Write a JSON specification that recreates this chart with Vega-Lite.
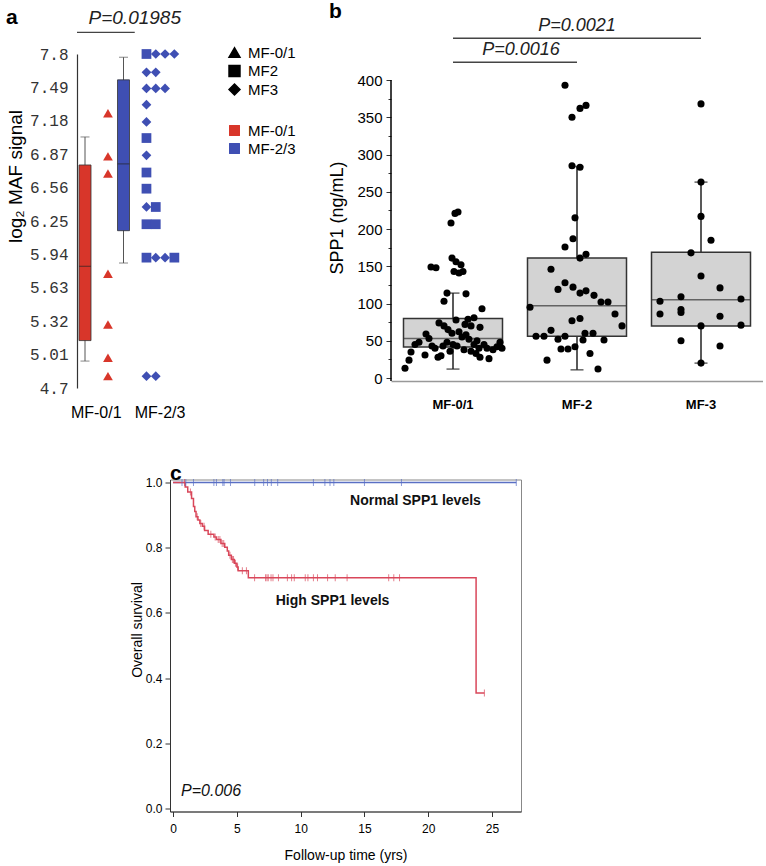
{
  "$schema": "https://vega.github.io/schema/vega-lite/v6.json",
  "padding": {"left": 5, "top": 0, "right": 0, "bottom": 0},
  "background": "white",
  "config": {
    "view": {"stroke": null},
    "font": "Liberation Sans",
    "axis": {"grid": false, "labelOverlap": false, "domainColor": "#000", "tickColor": "#000", "labelColor": "#000", "titleColor": "#000", "titleFontWeight": "normal", "labelFont": "Liberation Sans", "titleFont": "Liberation Sans"},
    "title": {"anchor": "start", "frame": "bounds", "fontSize": 21, "fontWeight": "bold", "color": "#000", "font": "Liberation Sans"},
    "legend": {"labelFont": "Liberation Sans", "labelColor": "#000"}
  },
  "datasets": {
    "boxA": [
      {"grp": "MF-0/1", "lo": 4.95, "q1": 5.14, "med": 5.83, "q3": 6.77, "hi": 7.03},
      {"grp": "MF-2/3", "lo": 5.86, "q1": 6.16, "med": 6.78, "q3": 7.56, "hi": 7.77}
    ],
    "ptsA": [
      {"grp": "MF-0/1", "type": "MF-0/1", "k": 0, "v": 7.25},
      {"grp": "MF-0/1", "type": "MF-0/1", "k": 0, "v": 6.85},
      {"grp": "MF-0/1", "type": "MF-0/1", "k": 0, "v": 6.69},
      {"grp": "MF-0/1", "type": "MF-0/1", "k": 0, "v": 5.76},
      {"grp": "MF-0/1", "type": "MF-0/1", "k": 0, "v": 5.29},
      {"grp": "MF-0/1", "type": "MF-0/1", "k": 0, "v": 4.98},
      {"grp": "MF-0/1", "type": "MF-0/1", "k": 0, "v": 4.81},
      {"grp": "MF-2/3", "type": "MF2", "k": 0, "v": 7.8},
      {"grp": "MF-2/3", "type": "MF3", "k": 1, "v": 7.8},
      {"grp": "MF-2/3", "type": "MF3", "k": 2, "v": 7.8},
      {"grp": "MF-2/3", "type": "MF3", "k": 3, "v": 7.8},
      {"grp": "MF-2/3", "type": "MF3", "k": 0, "v": 7.63},
      {"grp": "MF-2/3", "type": "MF3", "k": 1, "v": 7.63},
      {"grp": "MF-2/3", "type": "MF3", "k": 0, "v": 7.48},
      {"grp": "MF-2/3", "type": "MF3", "k": 1, "v": 7.48},
      {"grp": "MF-2/3", "type": "MF3", "k": 2, "v": 7.48},
      {"grp": "MF-2/3", "type": "MF3", "k": 0, "v": 7.33},
      {"grp": "MF-2/3", "type": "MF3", "k": 0, "v": 7.17},
      {"grp": "MF-2/3", "type": "MF2", "k": 0, "v": 7.02},
      {"grp": "MF-2/3", "type": "MF3", "k": 0, "v": 6.86},
      {"grp": "MF-2/3", "type": "MF2", "k": 0, "v": 6.7},
      {"grp": "MF-2/3", "type": "MF2", "k": 0, "v": 6.55},
      {"grp": "MF-2/3", "type": "MF3", "k": 0, "v": 6.38},
      {"grp": "MF-2/3", "type": "MF2", "k": 1, "v": 6.38},
      {"grp": "MF-2/3", "type": "MF2", "k": 0, "v": 6.22},
      {"grp": "MF-2/3", "type": "MF2", "k": 1, "v": 6.22},
      {"grp": "MF-2/3", "type": "MF2", "k": 0, "v": 5.91},
      {"grp": "MF-2/3", "type": "MF3", "k": 1, "v": 5.91},
      {"grp": "MF-2/3", "type": "MF3", "k": 2, "v": 5.91},
      {"grp": "MF-2/3", "type": "MF2", "k": 3, "v": 5.91},
      {"grp": "MF-2/3", "type": "MF3", "k": 0, "v": 4.81},
      {"grp": "MF-2/3", "type": "MF3", "k": 1, "v": 4.81}
    ],
    "sigA": [{"from": "MF-0/1", "to": "MF-2/3", "y": 8.0, "label": "P=0.01985"}],
    "boxB": [
      {"grp": "MF-0/1", "lo": 12, "q1": 41.6, "med": 53, "q3": 80, "hi": 114},
      {"grp": "MF-2", "lo": 11, "q1": 56, "med": 97, "q3": 161, "hi": 284},
      {"grp": "MF-3", "lo": 20, "q1": 70, "med": 105, "q3": 169, "hi": 263}
    ],
    "ptsB": [
      {"grp": "MF-0/1", "v": 13, "j": -0.96}, {"grp": "MF-0/1", "v": 24, "j": -0.88}, {"grp": "MF-0/1", "v": 35, "j": -0.84},
      {"grp": "MF-0/1", "v": 45, "j": -0.76}, {"grp": "MF-0/1", "v": 48, "j": -0.68}, {"grp": "MF-0/1", "v": 31, "j": -0.56},
      {"grp": "MF-0/1", "v": 59, "j": -0.54}, {"grp": "MF-0/1", "v": 53, "j": -0.48}, {"grp": "MF-0/1", "v": 43, "j": -0.42},
      {"grp": "MF-0/1", "v": 40, "j": -0.36}, {"grp": "MF-0/1", "v": 30, "j": -0.24}, {"grp": "MF-0/1", "v": 149, "j": -0.44},
      {"grp": "MF-0/1", "v": 148, "j": -0.34}, {"grp": "MF-0/1", "v": 74, "j": -0.28}, {"grp": "MF-0/1", "v": 103, "j": -0.18},
      {"grp": "MF-0/1", "v": 114, "j": -0.12}, {"grp": "MF-0/1", "v": 70, "j": -0.18}, {"grp": "MF-0/1", "v": 65, "j": -0.1},
      {"grp": "MF-0/1", "v": 60, "j": -0.02}, {"grp": "MF-0/1", "v": 48, "j": -0.12}, {"grp": "MF-0/1", "v": 36, "j": -0.06},
      {"grp": "MF-0/1", "v": 28, "j": -0.3}, {"grp": "MF-0/1", "v": 45, "j": 0}, {"grp": "MF-0/1", "v": 208, "j": -0.04},
      {"grp": "MF-0/1", "v": 221, "j": 0.04}, {"grp": "MF-0/1", "v": 223, "j": 0.1}, {"grp": "MF-0/1", "v": 161, "j": -0.02},
      {"grp": "MF-0/1", "v": 156, "j": 0.06}, {"grp": "MF-0/1", "v": 152, "j": 0.16}, {"grp": "MF-0/1", "v": 143, "j": 0.02},
      {"grp": "MF-0/1", "v": 141, "j": 0.12}, {"grp": "MF-0/1", "v": 143, "j": 0.2}, {"grp": "MF-0/1", "v": 113, "j": 0.26},
      {"grp": "MF-0/1", "v": 78, "j": 0.06}, {"grp": "MF-0/1", "v": 62, "j": 0.12}, {"grp": "MF-0/1", "v": 55, "j": 0.18},
      {"grp": "MF-0/1", "v": 43, "j": 0.08}, {"grp": "MF-0/1", "v": 38, "j": 0.22}, {"grp": "MF-0/1", "v": 72, "j": 0.24},
      {"grp": "MF-0/1", "v": 79, "j": 0.3}, {"grp": "MF-0/1", "v": 70, "j": 0.36}, {"grp": "MF-0/1", "v": 81, "j": 0.42},
      {"grp": "MF-0/1", "v": 52, "j": 0.32}, {"grp": "MF-0/1", "v": 45, "j": 0.42}, {"grp": "MF-0/1", "v": 36, "j": 0.36},
      {"grp": "MF-0/1", "v": 33, "j": 0.46}, {"grp": "MF-0/1", "v": 40, "j": 0.52}, {"grp": "MF-0/1", "v": 68, "j": 0.54},
      {"grp": "MF-0/1", "v": 93, "j": 0.58}, {"grp": "MF-0/1", "v": 45, "j": 0.62}, {"grp": "MF-0/1", "v": 28, "j": 0.54},
      {"grp": "MF-0/1", "v": 40, "j": 0.68}, {"grp": "MF-0/1", "v": 38, "j": 0.8}, {"grp": "MF-0/1", "v": 26, "j": 0.72},
      {"grp": "MF-0/1", "v": 42, "j": 0.88}, {"grp": "MF-0/1", "v": 48, "j": 0.94}, {"grp": "MF-0/1", "v": 40, "j": 0.98},
      {"grp": "MF-0/1", "v": 58, "j": 0.26}, {"grp": "MF-0/1", "v": 50, "j": 0.48}, {"grp": "MF-0/1", "v": 43, "j": -0.2},
      {"grp": "MF-2", "v": 393, "j": -0.24}, {"grp": "MF-2", "v": 350, "j": -0.1}, {"grp": "MF-2", "v": 362, "j": 0.06},
      {"grp": "MF-2", "v": 366, "j": 0.18}, {"grp": "MF-2", "v": 285, "j": -0.1}, {"grp": "MF-2", "v": 283, "j": 0.06},
      {"grp": "MF-2", "v": 215, "j": -0.04}, {"grp": "MF-2", "v": 187, "j": -0.08}, {"grp": "MF-2", "v": 176, "j": -0.24},
      {"grp": "MF-2", "v": 161, "j": 0.06}, {"grp": "MF-2", "v": 166, "j": 0.18}, {"grp": "MF-2", "v": 146, "j": -0.52},
      {"grp": "MF-2", "v": 119, "j": -0.38}, {"grp": "MF-2", "v": 128, "j": -0.24}, {"grp": "MF-2", "v": 122, "j": -0.08},
      {"grp": "MF-2", "v": 114, "j": 0.06}, {"grp": "MF-2", "v": 117, "j": 0.18}, {"grp": "MF-2", "v": 111, "j": 0.34},
      {"grp": "MF-2", "v": 102, "j": 0.48}, {"grp": "MF-2", "v": 102, "j": 0.62}, {"grp": "MF-2", "v": 86, "j": 0.76},
      {"grp": "MF-2", "v": 70, "j": 0.9}, {"grp": "MF-2", "v": 95, "j": -0.94}, {"grp": "MF-2", "v": 77, "j": -0.1},
      {"grp": "MF-2", "v": 80, "j": 0.06}, {"grp": "MF-2", "v": 56, "j": -0.82}, {"grp": "MF-2", "v": 56, "j": -0.66},
      {"grp": "MF-2", "v": 64, "j": -0.52}, {"grp": "MF-2", "v": 52, "j": -0.38}, {"grp": "MF-2", "v": 56, "j": -0.24},
      {"grp": "MF-2", "v": 60, "j": 0.16}, {"grp": "MF-2", "v": 60, "j": 0.32}, {"grp": "MF-2", "v": 51, "j": 0.12},
      {"grp": "MF-2", "v": 51, "j": 0.54}, {"grp": "MF-2", "v": 39, "j": -0.32}, {"grp": "MF-2", "v": 39, "j": -0.18},
      {"grp": "MF-2", "v": 42, "j": -0.04}, {"grp": "MF-2", "v": 24, "j": -0.6}, {"grp": "MF-2", "v": 33, "j": 0.26},
      {"grp": "MF-2", "v": 12, "j": 0.42},
      {"grp": "MF-3", "v": 368, "j": 0}, {"grp": "MF-3", "v": 263, "j": 0}, {"grp": "MF-3", "v": 217, "j": 0},
      {"grp": "MF-3", "v": 185, "j": 0.2}, {"grp": "MF-3", "v": 168, "j": -0.2}, {"grp": "MF-3", "v": 137, "j": 0},
      {"grp": "MF-3", "v": 121, "j": 0.38}, {"grp": "MF-3", "v": 109, "j": -0.4}, {"grp": "MF-3", "v": 103, "j": -0.82},
      {"grp": "MF-3", "v": 106, "j": 0.8}, {"grp": "MF-3", "v": 92, "j": -0.4}, {"grp": "MF-3", "v": 86, "j": -0.82},
      {"grp": "MF-3", "v": 83, "j": 0.38}, {"grp": "MF-3", "v": 71, "j": 0.8}, {"grp": "MF-3", "v": 70, "j": 0},
      {"grp": "MF-3", "v": 50, "j": -0.4}, {"grp": "MF-3", "v": 43, "j": 0.38}, {"grp": "MF-3", "v": 20, "j": 0},
      {"grp": "MF-3", "v": 88, "j": -0.4}
    ],
    "sigB": [
      {"from": "MF-0/1", "to": "MF-3", "y": 456, "label": "P=0.0021"},
      {"from": "MF-0/1", "to": "MF-2", "y": 424, "label": "P=0.0016"}
    ],
    "kmRed": [
      {"t": 0, "S": 1}, {"t": 0.95, "S": 0.986}, {"t": 1.15, "S": 0.971}, {"t": 1.45, "S": 0.951},
      {"t": 1.6, "S": 0.926}, {"t": 1.7, "S": 0.911}, {"t": 1.8, "S": 0.895}, {"t": 1.95, "S": 0.885},
      {"t": 2.1, "S": 0.874}, {"t": 2.3, "S": 0.866}, {"t": 2.47, "S": 0.853}, {"t": 2.75, "S": 0.841},
      {"t": 3.2, "S": 0.833}, {"t": 3.4, "S": 0.825}, {"t": 3.75, "S": 0.813}, {"t": 4.05, "S": 0.801},
      {"t": 4.25, "S": 0.79}, {"t": 4.36, "S": 0.777}, {"t": 4.57, "S": 0.764}, {"t": 4.8, "S": 0.752},
      {"t": 5.0, "S": 0.741}, {"t": 5.1, "S": 0.729}, {"t": 5.9, "S": 0.708}, {"t": 23.75, "S": 0.354},
      {"t": 24.4, "S": 0.354}
    ],
    "kmBlue": [{"t": 0, "S": 1}, {"t": 26.9, "S": 1}],
    "cenRed": [
      {"t": 0.9, "S": 1}, {"t": 1.36, "S": 0.971}, {"t": 1.89, "S": 0.895}, {"t": 2.17, "S": 0.874},
      {"t": 2.43, "S": 0.866}, {"t": 2.96, "S": 0.841}, {"t": 3.3, "S": 0.833}, {"t": 3.54, "S": 0.825},
      {"t": 3.67, "S": 0.825}, {"t": 3.85, "S": 0.813}, {"t": 3.97, "S": 0.813}, {"t": 4.46, "S": 0.777},
      {"t": 4.65, "S": 0.764}, {"t": 4.74, "S": 0.764}, {"t": 4.89, "S": 0.752}, {"t": 5.06, "S": 0.741},
      {"t": 5.43, "S": 0.729}, {"t": 5.75, "S": 0.729}, {"t": 6.39, "S": 0.708}, {"t": 7.25, "S": 0.708},
      {"t": 7.36, "S": 0.708}, {"t": 7.46, "S": 0.708}, {"t": 7.68, "S": 0.708}, {"t": 7.83, "S": 0.708},
      {"t": 8.26, "S": 0.708}, {"t": 8.96, "S": 0.708}, {"t": 9.29, "S": 0.708}, {"t": 9.5, "S": 0.708},
      {"t": 10.36, "S": 0.708}, {"t": 10.57, "S": 0.708}, {"t": 11.0, "S": 0.708}, {"t": 11.32, "S": 0.708},
      {"t": 12.11, "S": 0.708}, {"t": 12.71, "S": 0.708}, {"t": 13.64, "S": 0.708}, {"t": 16.9, "S": 0.708},
      {"t": 17.3, "S": 0.708}, {"t": 17.75, "S": 0.708}, {"t": 24.4, "S": 0.354}
    ],
    "cenBlue": [
      {"t": 0.7, "S": 1}, {"t": 1.0, "S": 1}, {"t": 1.6, "S": 1}, {"t": 3.2, "S": 1}, {"t": 3.4, "S": 1},
      {"t": 3.9, "S": 1}, {"t": 4.0, "S": 1}, {"t": 4.5, "S": 1}, {"t": 6.4, "S": 1}, {"t": 7.1, "S": 1},
      {"t": 7.4, "S": 1}, {"t": 7.7, "S": 1}, {"t": 8.2, "S": 1}, {"t": 11.0, "S": 1}, {"t": 11.9, "S": 1},
      {"t": 12.3, "S": 1}, {"t": 12.6, "S": 1}, {"t": 15.0, "S": 1}, {"t": 17.9, "S": 1}, {"t": 26.9, "S": 1}
    ],
    "labC": [
      {"t": 19.0, "S": 0.942, "label": "Normal SPP1 levels"},
      {"t": 12.5, "S": 0.635, "label": "High SPP1 levels"}
    ],
    "pC": [{"t": 0.63, "S": 0.055, "label": "P=0.006"}]
  },
  "resolve": {"scale": {"xOffset": "independent"}},
  "spacing": 42.5,
  "vconcat": [
    {
      "spacing": 143,
      "resolve": {"scale": {"xOffset": "independent"}},
      "hconcat": [
        {
          "width": 77,
          "height": 334,
          "title": {"text": "a", "offset": -18.5},
          "layer": [
            {
              "data": {"name": "boxA"},
              "mark": {"type": "rule", "xOffset": -11.25, "color": "#555", "strokeWidth": 1},
              "encoding": {
                "x": {"field": "grp", "type": "nominal", "scale": {"domain": ["MF-0/1", "MF-2/3"], "paddingInner": 0, "paddingOuter": 0},
                  "axis": {"title": null, "domain": false, "ticks": false, "labelAngle": 0, "labelFontSize": 16, "labelPadding": 16,
                    "labelAlign": {"condition": {"test": "datum.value === 'MF-2/3'", "value": "left"}, "value": "center"}}},
                "y": {"field": "lo", "type": "quantitative", "scale": {"domain": [4.7, 7.8], "nice": false, "zero": false},
                  "axis": {"values": [4.7, 5.01, 5.32, 5.63, 5.94, 6.25, 6.56, 6.87, 7.18, 7.49, 7.8], "tickCount": 20, "format": ".3~g", "ticks": false, "labelOverlap": false,
                    "labelFont": "Liberation Mono", "labelFontSize": 16, "labelColor": "#333", "labelPadding": 9, "domainWidth": 1.2, "domainColor": "#333",
                    "title": "log₂ MAF signal", "titleFontSize": 19, "titleX": -52, "titleY": 122}},
                "y2": {"field": "hi"}
              }
            },
            {
              "data": {"name": "boxA"},
              "mark": {"type": "tick", "xOffset": -11.25, "color": "#555", "size": 9, "thickness": 1},
              "encoding": {"x": {"field": "grp", "type": "nominal"}, "y": {"field": "lo", "type": "quantitative"}}
            },
            {
              "data": {"name": "boxA"},
              "mark": {"type": "tick", "xOffset": -11.25, "color": "#555", "size": 9, "thickness": 1},
              "encoding": {"x": {"field": "grp", "type": "nominal"}, "y": {"field": "hi", "type": "quantitative"}}
            },
            {
              "data": {"name": "boxA"},
              "mark": {"type": "bar", "width": 12, "xOffset": -11.25, "stroke": "#333", "strokeWidth": 0.8},
              "encoding": {
                "x": {"field": "grp", "type": "nominal"},
                "y": {"field": "q1", "type": "quantitative"},
                "y2": {"field": "q3"},
                "color": {"field": "grp", "type": "nominal", "scale": {"domain": ["MF-0/1", "MF-2/3"], "range": ["#d8362a", "#3f4fb3"]},
                  "legend": {"orient": "none", "legendX": 150, "legendY": 69, "title": null, "symbolType": "square", "symbolSize": 120, "labelFontSize": 15, "rowPadding": 2, "symbolStrokeWidth": 0, "labelOffset": 6}}
              }
            },
            {
              "data": {"name": "boxA"},
              "mark": {"type": "tick", "xOffset": -11.25, "color": "#222", "size": 12, "thickness": 1},
              "encoding": {"x": {"field": "grp", "type": "nominal"}, "y": {"field": "med", "type": "quantitative"}}
            },
            {
              "data": {"name": "ptsA"},
              "mark": {"type": "point", "filled": true, "size": 95, "opacity": 1},
              "encoding": {
                "x": {"field": "grp", "type": "nominal"},
                "xOffset": {"field": "k", "type": "quantitative", "scale": {"domain": [-3.33, 0.81]}},
                "y": {"field": "v", "type": "quantitative"},
                "color": {"field": "grp", "type": "nominal"},
                "shape": {"field": "type", "type": "nominal", "scale": {"domain": ["MF-0/1", "MF2", "MF3"], "range": ["triangle-up", "square", "diamond"]},
                  "legend": {"orient": "none", "legendX": 150, "legendY": -9, "title": null, "symbolFillColor": "#000", "symbolStrokeColor": "#000", "symbolSize": 120, "labelFontSize": 15, "rowPadding": 1.5, "labelOffset": 6}}
              }
            },
            {
              "data": {"name": "sigA"},
              "mark": {"type": "rule", "color": "#444", "strokeWidth": 1.2},
              "encoding": {
                "x": {"field": "from", "type": "nominal", "bandPosition": 0},
                "x2": {"field": "to"},
                "y": {"field": "y", "type": "quantitative"}
              }
            },
            {
              "data": {"name": "sigA"},
              "mark": {"type": "text", "fontStyle": "italic", "fontSize": 19, "baseline": "bottom", "dy": -4, "color": "#222"},
              "encoding": {
                "x": {"field": "to", "type": "nominal"},
                "y": {"field": "y", "type": "quantitative"},
                "text": {"field": "label"}
              }
            }
          ]
        },
        {
          "width": 372,
          "height": 327,
          "title": {"text": "b", "offset": -4.5},
          "layer": [
            {
              "data": {"name": "boxB"},
              "mark": {"type": "rule", "color": "#222", "strokeWidth": 1.5},
              "encoding": {
                "x": {"field": "grp", "type": "nominal", "scale": {"domain": ["MF-0/1", "MF-2", "MF-3"], "paddingInner": 0, "paddingOuter": 0},
                  "axis": {"title": null, "ticks": false, "labelAngle": 0, "labelFontSize": 13, "labelFontWeight": "bold", "labelPadding": 17, "domainColor": "#999", "domainWidth": 1.5}},
                "y": {"field": "lo", "type": "quantitative", "scale": {"domain": [-4, 435], "nice": false, "zero": false},
                  "axis": {"values": [0, 25, 50, 75, 100, 125, 150, 175, 200, 225, 250, 275, 300, 325, 350, 375, 400], "tickCount": 30,
                    "labelExpr": "datum.value % 50 === 0 ? datum.label : ''",
                    "tickSize": {"condition": {"test": "datum.value % 50 === 0", "value": 5}, "value": 3},
                    "labelFontSize": 15, "labelPadding": 4,
                    "domain": false, "tickWidth": 1, "tickColor": "#333", "title": "SPP1 (ng/mL)", "titleFontSize": 18, "titlePadding": 10}},
                "y2": {"field": "hi"}
              }
            },
            {
              "data": {"values": [{}]},
              "mark": {"type": "rule", "color": "#000", "strokeWidth": 1.5},
              "encoding": {
                "x": {"datum": "MF-0/1", "type": "nominal", "bandPosition": 0},
                "y": {"datum": -4, "type": "quantitative"},
                "y2": {"datum": 400}
              }
            },
            {
              "data": {"name": "boxB"},
              "mark": {"type": "tick", "color": "#222", "size": 13, "thickness": 1.5},
              "encoding": {"x": {"field": "grp", "type": "nominal"}, "y": {"field": "lo", "type": "quantitative"}}
            },
            {
              "data": {"name": "boxB"},
              "mark": {"type": "tick", "color": "#222", "size": 13, "thickness": 1.5},
              "encoding": {"x": {"field": "grp", "type": "nominal"}, "y": {"field": "hi", "type": "quantitative"}}
            },
            {
              "data": {"name": "boxB"},
              "mark": {"type": "bar", "width": 99, "fill": "#d3d3d3", "stroke": "#333", "strokeWidth": 1.5},
              "encoding": {"x": {"field": "grp", "type": "nominal"}, "y": {"field": "q1", "type": "quantitative"}, "y2": {"field": "q3"}}
            },
            {
              "data": {"name": "boxB"},
              "mark": {"type": "tick", "color": "#333", "size": 99, "thickness": 1.5},
              "encoding": {"x": {"field": "grp", "type": "nominal"}, "y": {"field": "med", "type": "quantitative"}}
            },
            {
              "data": {"name": "ptsB"},
              "mark": {"type": "circle", "size": 50, "color": "#000", "opacity": 1},
              "encoding": {
                "x": {"field": "grp", "type": "nominal"},
                "xOffset": {"field": "j", "type": "quantitative", "scale": {"domain": [-1.24, 1.24]}},
                "y": {"field": "v", "type": "quantitative"}
              }
            },
            {
              "data": {"name": "sigB"},
              "mark": {"type": "rule", "color": "#444", "strokeWidth": 1.5},
              "encoding": {
                "x": {"field": "from", "type": "nominal"},
                "x2": {"field": "to"},
                "y": {"field": "y", "type": "quantitative"}
              }
            },
            {
              "data": {"name": "sigB"},
              "transform": [{"filter": "datum.label === 'P=0.0021'"}],
              "mark": {"type": "text", "fontStyle": "italic", "fontSize": 18, "baseline": "bottom", "dy": -3, "dx": 124, "color": "#222"},
              "encoding": {"x": {"field": "from", "type": "nominal"}, "y": {"field": "y", "type": "quantitative"}, "text": {"field": "label"}}
            },
            {
              "data": {"name": "sigB"},
              "transform": [{"filter": "datum.label === 'P=0.0016'"}],
              "mark": {"type": "text", "fontStyle": "italic", "fontSize": 18, "baseline": "bottom", "dy": -3, "dx": 68, "color": "#222"},
              "encoding": {"x": {"field": "from", "type": "nominal"}, "y": {"field": "y", "type": "quantitative"}, "text": {"field": "label"}}
            }
          ]
        }
      ]
    },
    {
      "spacing": 28,
      "hconcat": [
        {
          "width": 24,
          "height": 10,
          "data": {"values": []},
          "mark": "text",
          "encoding": {}
        },
        {
          "width": 351,
          "height": 332,
          "view": {"stroke": "#888", "strokeWidth": 1},
          "title": {"text": "c", "frame": "group", "offset": -8},
          "layer": [
            {
              "data": {"name": "kmBlue"},
              "mark": {"type": "line", "color": "#5a6fc4", "strokeWidth": 1.5},
              "encoding": {
                "x": {"field": "t", "type": "quantitative", "scale": {"domain": [-0.24, 27.27], "nice": false, "zero": false},
                  "axis": {"values": [0, 5, 10, 15, 20, 25], "title": "Follow-up time (yrs)", "titleFontSize": 14, "titlePadding": 14, "labelFontSize": 12, "tickSize": 5, "labelPadding": 7, "domainColor": "#333", "tickColor": "#333"}},
                "y": {"field": "S", "type": "quantitative", "scale": {"domain": [-0.009, 1.009], "nice": false, "zero": false},
                  "axis": {"values": [0, 0.2, 0.4, 0.6, 0.8, 1], "format": ".1f", "title": "Overall survival", "titleFontSize": 14, "titlePadding": 1, "titleY": 150, "labelFontSize": 12, "tickSize": 5, "labelPadding": 3, "domainColor": "#333", "tickColor": "#333"}}
              }
            },
            {
              "data": {"name": "kmRed"},
              "mark": {"type": "line", "color": "#d9475a", "strokeWidth": 1.5, "interpolate": "step-after"},
              "encoding": {"x": {"field": "t", "type": "quantitative"}, "y": {"field": "S", "type": "quantitative"}}
            },
            {
              "data": {"name": "cenBlue"},
              "mark": {"type": "tick", "orient": "vertical", "color": "#5a6fc4", "size": 7, "thickness": 1},
              "encoding": {"x": {"field": "t", "type": "quantitative"}, "y": {"field": "S", "type": "quantitative"}}
            },
            {
              "data": {"name": "cenRed"},
              "mark": {"type": "tick", "orient": "vertical", "color": "#d9475a", "size": 7, "thickness": 1},
              "encoding": {"x": {"field": "t", "type": "quantitative"}, "y": {"field": "S", "type": "quantitative"}}
            },
            {
              "data": {"name": "labC"},
              "mark": {"type": "text", "fontWeight": "bold", "fontSize": 14, "color": "#111"},
              "encoding": {"x": {"field": "t", "type": "quantitative"}, "y": {"field": "S", "type": "quantitative"}, "text": {"field": "label"}}
            },
            {
              "data": {"name": "pC"},
              "mark": {"type": "text", "fontStyle": "italic", "fontSize": 16, "align": "left", "color": "#111"},
              "encoding": {"x": {"field": "t", "type": "quantitative"}, "y": {"field": "S", "type": "quantitative"}, "text": {"field": "label"}}
            }
          ]
        }
      ]
    }
  ]
}
